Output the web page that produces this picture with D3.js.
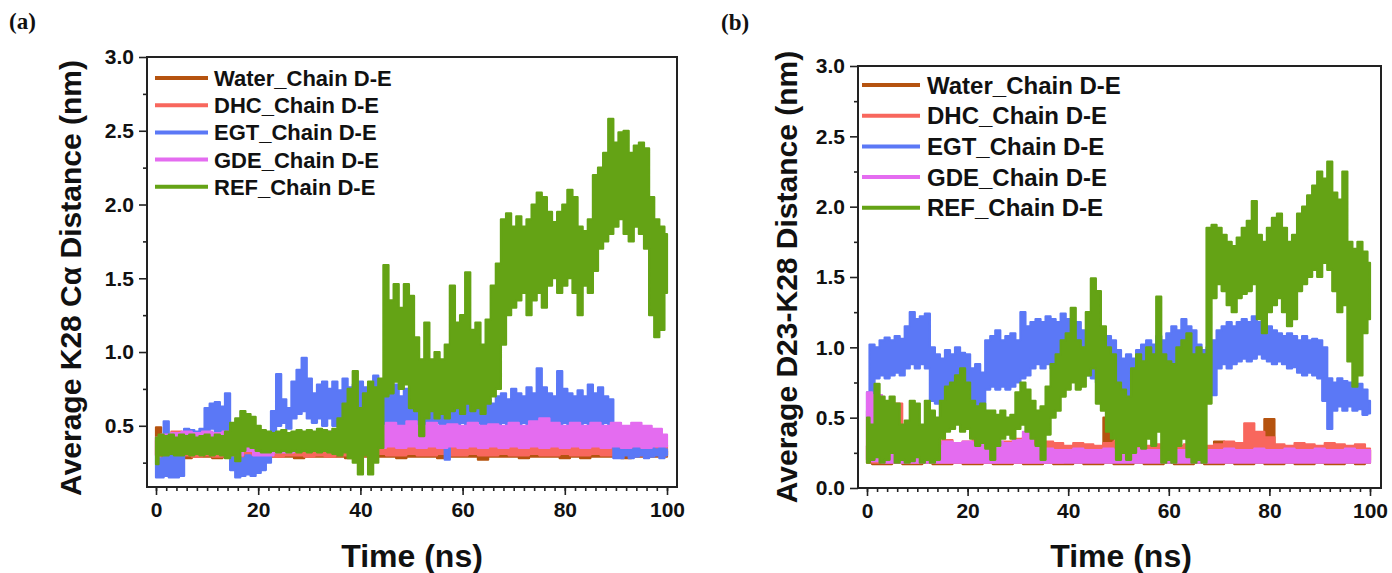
<!DOCTYPE html>
<html><head><meta charset="utf-8">
<script src="https://cdn.jsdelivr.net/npm/d3@7"></script>
<style>
body{margin:0;background:#fff}
svg text{font-family:"Liberation Sans",Arial,sans-serif;font-weight:bold;fill:#111}
</style>
</head><body>
<svg id="c" width="1392" height="573"></svg>
<script>
// ---------------- DATA ----------------
const seriesNames = ["Water_Chain D-E","DHC_Chain D-E","EGT_Chain D-E","GDE_Chain D-E","REF_Chain D-E"];
const timeFine = d3.range(0, 101, 1);    // ns, 1 ns sampling
const timeCoarse = d3.range(0, 101, 2);  // ns, 2 ns sampling
const xTicks = [0, 20, 40, 60, 80, 100];
const xMinorTicks = d3.range(0, 101, 2);
const yTicksA = [0.5, 1.0, 1.5, 2.0, 2.5, 3.0];
const yMinorA = [0.25, 0.75, 1.25, 1.75, 2.25, 2.75];
const yTicksB = [0.0, 0.5, 1.0, 1.5, 2.0, 2.5, 3.0];
const yMinorB = [0.25, 0.75, 1.25, 1.75, 2.25, 2.75];

// Panel (a): Average K28 Cα distance, band low / high envelopes (nm)
const waterA_lo = [.30,.29,.29,.28,.29,.29,.28,.29,.29,.29, .28,.29,.29,.29,.28,.29,.29,.29,.29,.28, .29,.29,.29,.29,.28,.29,.29,.29,.28,.29, .29,.29,.27,.29,.29,.29,.28,.29,.29,.29, .28,.29,.28,.29,.29,.29,.28,.29,.29,.29, .29];
const waterA_hi = [.49,.33,.32,.33,.32,.32,.33,.32,.32,.33, .32,.32,.33,.32,.32,.33,.32,.32,.33,.32, .32,.33,.32,.33,.33,.34,.33,.33,.32,.33, .32,.33,.32,.33,.32,.33,.32,.33,.33,.32, .33,.32,.33,.32,.33,.32,.33,.32,.33,.32, .33];
const dhcA_lo = [.30,.30,.30,.30,.29,.30,.29,.30,.29,.30, .29,.30,.29,.30,.30,.29,.30,.29,.30,.30, .30,.30,.31,.30,.30,.31,.30,.30,.31,.30, .30,.31,.30,.30,.31,.30,.30,.31,.30,.30, .31,.30,.30,.31,.30,.30,.31,.30,.30,.31, .30];
const dhcA_hi = [.40,.42,.46,.38,.37,.36,.37,.36,.36,.37, .36,.37,.36,.36,.37,.36,.36,.37,.36,.36, .36,.37,.37,.38,.37,.38,.37,.37,.38,.37, .37,.38,.37,.38,.37,.37,.38,.37,.38,.37, .38,.37,.37,.38,.37,.38,.37,.37,.38,.37, .37];
const egtA_lo = [.15,.15,.16,.15,.15,.16,.35,.38,.36,.40, .45,.48,.45,.42,.40,.20,.15,.16,.17,.16, .18,.20,.25,.45,.50,.52,.48,.55,.58,.60, .55,.52,.55,.50,.55,.50,.55,.58,.52,.55, .50,.55,.52,.50,.48,.45,.50,.48,.45,.50, .48,.50,.52,.48,.50,.52,.50,.27,.50,.48, .52,.50,.48,.52,.50,.48,.52,.50,.52,.50, .52,.50,.52,.48,.52,.50,.52,.50,.52,.50, .52,.50,.52,.50,.52,.50,.52,.50,.52,.45, .28,.28,.30,.28,.29,.30,.28,.29,.30,.28, .30];
const egtA_hi = [.30,.28,.53,.30,.29,.32,.48,.47,.46,.48, .62,.65,.66,.63,.72,.40,.30,.28,.30,.29, .31,.33,.45,.60,.85,.68,.62,.80,.88,.96, .82,.72,.78,.80,.75,.80,.74,.82,.76,.78, .80,.76,.78,.84,.80,.75,.72,.78,.70,.75, .70,.72,.68,.70,.75,.70,.88,.72,.68,.70, .66,.68,.65,.70,.66,.68,.65,.70,.72,.68, .75,.72,.70,.76,.72,.89,.76,.72,.70,.87, .75,.72,.70,.74,.70,.78,.72,.76,.70,.68, .36,.34,.36,.34,.35,.34,.36,.35,.34,.36, .34];
const gdeA_lo = [.30,.32,.33,.33,.32,.33,.32,.31,.30,.33, .30,.30,.32,.32,.33,.33,.33,.33,.33,.33, .33,.32,.35,.36,.35,.36,.35,.36,.35,.36, .35,.36,.35,.36,.35,.36,.35,.36,.35,.36, .35,.36,.35,.36,.35,.36,.35,.36,.35,.36, .36];
const gdeA_hi = [.42,.44,.45,.46,.45,.46,.45,.46,.44,.44, .38,.38,.42,.44,.45,.44,.45,.46,.45,.46, .45,.46,.50,.52,.50,.53,.50,.52,.50,.51, .50,.52,.50,.51,.50,.52,.50,.53,.55,.52, .50,.52,.50,.52,.50,.52,.50,.52,.50,.48, .44];
const refA_lo = [.24,.30,.30,.31,.30,.30,.31,.30,.31,.30, .31,.30,.31,.30,.28,.30,.26,.33,.36,.35, .33,.32,.32,.33,.32,.33,.32,.33,.32,.33, .32,.33,.32,.33,.32,.31,.30,.32,.28,.25, .17,.30,.17,.25,.35,.70,.72,.80,.75,.78, .62,.60,.43,.55,.60,.55,.58,.55,.60,.62, .58,.65,.60,.62,.58,.65,.70,.75,1.05,1.25, 1.30,1.35,1.40,1.25,1.35,1.40,1.30,1.45,1.50,1.40, 1.45,1.50,1.40,1.25,1.45,1.40,1.55,1.70,1.75,1.80, 1.85,1.90,1.80,1.75,1.85,1.80,1.70,1.25,1.10,1.15, 1.40];
const refA_hi = [.42,.44,.43,.44,.42,.44,.43,.44,.42,.43, .44,.42,.44,.43,.46,.52,.55,.60,.58,.56, .50,.47,.46,.45,.46,.47,.45,.46,.47,.46, .47,.46,.48,.47,.46,.48,.55,.65,.75,.87, .62,.72,.80,.76,.82,1.59,1.35,1.46,1.30,1.46, 1.38,1.10,.95,1.20,.95,1.00,.95,1.05,1.45,1.20, 1.25,1.54,1.15,1.20,1.05,1.22,1.45,1.60,1.90,1.94, 1.85,1.92,1.85,1.90,2.00,2.08,2.05,1.95,1.88,1.95, 2.00,2.10,2.05,1.85,1.82,1.90,2.20,2.25,2.35,2.58, 2.42,2.49,2.50,2.35,2.40,2.42,2.38,2.05,1.90,1.85, 1.80];

// Panel (b): Average D23-K28 distance, band low / high envelopes (nm)
const waterB_lo = [.18,.17,.17,.18,.17,.17,.18,.17,.17,.18, .17,.17,.18,.17,.17,.18,.17,.17,.18,.17, .17,.18,.17,.17,.18,.17,.17,.18,.17,.17, .18,.17,.17,.18,.17,.17,.18,.17,.17,.18, .17,.17,.18,.17,.17,.18,.17,.17,.18,.17, .18];
const waterB_hi = [.30,.48,.28,.27,.27,.28,.27,.27,.28,.27, .27,.28,.27,.27,.28,.27,.27,.28,.27,.27, .28,.27,.27,.28,.50,.28,.27,.28,.27,.27, .28,.27,.27,.28,.27,.33,.28,.27,.28,.27, .49,.28,.27,.28,.27,.28,.27,.28,.27,.28, .27];
const dhcB_lo = [.20,.18,.18,.18,.18,.18,.18,.18,.18,.18, .18,.18,.18,.18,.18,.18,.18,.18,.18,.18, .20,.20,.20,.20,.20,.20,.20,.20,.20,.20, .20,.20,.20,.20,.20,.20,.20,.20,.25,.22, .22,.20,.20,.20,.20,.20,.20,.20,.20,.20, .20];
const dhcB_hi = [.55,.58,.50,.60,.35,.33,.35,.33,.34,.32, .33,.35,.34,.32,.33,.35,.36,.34,.33,.32, .30,.32,.31,.30,.32,.33,.31,.32,.30,.31, .32,.30,.31,.32,.30,.31,.33,.32,.46,.40, .36,.31,.30,.32,.31,.30,.32,.31,.30,.31, .28];
const egtB_lo = [.50,.60,.78,.80,.78,.80,.82,.80,.85,.88, .85,.88,.85,.62,.60,.50,.60,.58,.62,.60, .58,.55,.58,.55,.70,.72,.70,.72,.70,.72, .75,.78,.80,.85,.88,.85,.88,.85,.88,.90, .88,.85,.88,.85,.80,.78,.75,.78,.75,.78, .72,.68,.65,.70,.72,.75,.78,.75,.78,.80, .82,.80,.82,.85,.82,.80,.72,.70,.68,.66, .85,.88,.85,.88,.90,.92,.90,.92,.95,.92, .90,.88,.90,.88,.85,.86,.82,.80,.82,.80, .78,.62,.42,.55,.58,.55,.58,.55,.56,.52, .53];
const egtB_hi = [.68,1.02,1.00,1.05,1.07,1.05,1.08,1.06,1.15,1.25, 1.20,1.22,1.24,1.00,.95,.92,.98,.95,1.00,.96, .95,.85,.88,.82,1.05,1.08,1.12,1.05,1.08,1.10, 1.05,1.25,1.15,1.18,1.20,1.18,1.22,1.20,1.18,1.24, 1.20,1.15,1.18,1.12,1.10,1.08,1.05,1.10,1.08,1.05, .98,.92,.95,.92,.98,1.02,1.05,1.02,1.08,1.05, 1.10,1.15,1.12,1.20,1.15,1.12,1.02,.98,1.00,1.05, 1.12,1.15,1.18,1.15,1.18,1.20,1.18,1.22,1.18,1.20, 1.15,1.12,1.10,1.08,1.10,1.08,1.05,1.08,1.05,1.06, 1.05,1.00,.78,.75,.78,.76,.75,.72,.74,.70, .62];
const gdeB_lo = [.20,.19,.18,.18,.18,.18,.18,.18,.18,.18, .18,.18,.18,.18,.18,.18,.18,.18,.18,.18, .18,.18,.18,.18,.18,.18,.18,.18,.18,.18, .18,.18,.18,.18,.18,.18,.18,.18,.18,.18, .18,.18,.18,.18,.18,.18,.18,.18,.18,.18, .18];
const gdeB_hi = [.68,.66,.30,.32,.30,.30,.31,.30,.33,.32, .33,.32,.31,.33,.32,.34,.40,.30,.28,.27, .27,.28,.27,.27,.28,.27,.27,.28,.27,.27, .28,.27,.27,.28,.27,.27,.28,.27,.27,.28, .27,.27,.28,.27,.27,.28,.27,.27,.28,.27, .27];
const refB_lo = [.18,.20,.22,.18,.20,.25,.18,.20,.18,.19, .22,.18,.20,.18,.20,.35,.40,.42,.45,.40, .42,.35,.30,.32,.28,.20,.30,.35,.38,.35, .42,.45,.40,.35,.30,.20,.38,.50,.55,.65, .70,.75,.70,.72,.80,.85,.60,.55,.40,.35, .20,.25,.20,.25,.30,.28,.35,.30,.40,.18, .20,.18,.30,.35,.22,.18,.20,.18,.60,1.35, 1.45,1.40,1.30,1.25,1.35,1.38,1.40,1.45,1.20,1.10, 1.25,1.30,1.35,1.25,1.15,1.20,1.40,1.45,1.50,1.55, 1.50,1.60,1.55,1.40,1.25,1.30,.90,.72,.80,1.10, 1.20];
const refB_hi = [.50,.45,.74,.65,.62,.65,.60,.45,.48,.62, .60,.45,.62,.55,.50,.62,.72,.75,.80,.85, .75,.62,.58,.60,.55,.55,.52,.55,.50,.52, .68,.75,.70,.62,.55,.58,.72,.88,.95,1.05, 1.10,1.28,1.05,1.00,1.25,1.49,1.40,1.15,1.00,.95, .75,.70,.65,.85,.95,.90,1.00,.95,1.36,.95, .90,.88,1.00,1.05,1.10,.95,1.00,.95,1.85,1.87, 1.85,1.80,1.75,1.72,1.78,1.85,1.90,2.04,1.80,1.75, 1.85,1.92,1.95,1.85,1.75,1.80,1.95,2.00,2.08,2.15, 2.25,2.20,2.32,2.10,2.05,2.25,1.75,1.70,1.75,1.68, 1.60];

// ---------------- STYLE / LAYOUT ----------------
const colors = ["#b5530f", "#f8675d", "#5b78f6", "#e46cf0", "#64a315"];
const svg = d3.select("#c");

function drawPanel(cfg) {
  const g = svg.append("g");
  const x = d3.scaleLinear().domain([0, 100]).range(cfg.xRange);
  const y = d3.scaleLinear().domain(cfg.yDomain).range([cfg.frame.y1, cfg.frame.y0]);
  const f = cfg.frame;
  const clipId = "clip" + cfg.id;
  svg.append("defs").append("clipPath").attr("id", clipId)
    .append("rect").attr("x", f.x0).attr("y", f.y0).attr("width", f.x1 - f.x0).attr("height", f.y1 - f.y0);

  const plot = g.append("g").attr("clip-path", `url(#${clipId})`);
  cfg.series.forEach((s, k) => {
    const pts = s.time.map((t, i) => ({t, lo: s.lo[i], hi: s.hi[i]}));
    const area = d3.area().curve(d3.curveStep).x(d => x(d.t)).y0(d => y(d.lo)).y1(d => y(d.hi));
    plot.append("path").attr("d", area(pts))
      .attr("fill", colors[k]).attr("stroke", colors[k])
      .attr("stroke-width", 2.2).attr("stroke-linejoin", "round");
  });

  // axes
  const xa = g.append("g").attr("transform", `translate(0,${f.y1})`)
    .call(d3.axisBottom(x).tickValues(xMinorTicks).tickSize(4).tickFormat(""));
  const xb = g.append("g").attr("transform", `translate(0,${f.y1})`)
    .call(d3.axisBottom(x).tickValues(xTicks).tickSize(8).tickPadding(7).tickFormat(d3.format("d")));
  const ya = g.append("g").attr("transform", `translate(${f.x0},0)`)
    .call(d3.axisLeft(y).tickValues(cfg.yMinor).tickSize(4).tickFormat(""));
  const yb = g.append("g").attr("transform", `translate(${f.x0},0)`)
    .call(d3.axisLeft(y).tickValues(cfg.yTicks).tickSize(8).tickPadding(5).tickFormat(d3.format(".1f")));
  [xa, xb, ya, yb].forEach(a => {
    a.select(".domain").remove();
    a.selectAll("line").attr("stroke", "#222").attr("stroke-width", 1.6);
    a.selectAll("text").style("font-size", "21px").attr("fill", "#111");
  });
  g.append("rect").attr("x", f.x0).attr("y", f.y0).attr("width", f.x1 - f.x0).attr("height", f.y1 - f.y0)
    .attr("fill", "none").attr("stroke", "#222").attr("stroke-width", 2);

  // titles
  g.append("text").attr("x", cfg.xTitle[0]).attr("y", cfg.xTitle[1]).attr("text-anchor", "middle")
    .style("font-size", "32px").text("Time (ns)");
  g.append("text").attr("transform", `translate(${cfg.yTitle[0]},${cfg.yTitle[1]}) rotate(-90)`)
    .attr("text-anchor", "middle").style("font-size", cfg.yTitleSize + "px").text(cfg.yLabel);
  g.append("text").attr("x", cfg.tag[0]).attr("y", cfg.tag[1])
    .style("font-family", "'Liberation Serif','Times New Roman',serif").style("font-size", "23px")
    .text(cfg.tagText);

  // legend
  const L = cfg.legend;
  seriesNames.forEach((name, k) => {
    const yy = L.y0 + k * L.dy;
    g.append("line").attr("x1", L.x0).attr("x2", L.x1).attr("y1", yy).attr("y2", yy)
      .attr("stroke", colors[k]).attr("stroke-width", 4);
    g.append("text").attr("x", L.tx).attr("y", yy).attr("dy", "0.36em")
      .style("font-size", L.fs + "px").text(name);
  });
}

drawPanel({
  id: "a", tagText: "(a)", tag: [9, 29],
  frame: {x0: 147, x1: 677, y0: 57, y1: 487},
  xRange: [156, 667], yDomain: [0.085, 3.0],
  yTicks: yTicksA, yMinor: yMinorA,
  yLabel: "Average K28 Cα Distance (nm)", yTitle: [81, 278], yTitleSize: 30,
  xTitle: [412, 567],
  legend: {x0: 155, x1: 208, tx: 214, y0: 78, dy: 27.2, fs: 22},
  series: [
    {time: timeCoarse, lo: waterA_lo, hi: waterA_hi},
    {time: timeCoarse, lo: dhcA_lo, hi: dhcA_hi},
    {time: timeFine, lo: egtA_lo, hi: egtA_hi},
    {time: timeCoarse, lo: gdeA_lo, hi: gdeA_hi},
    {time: timeFine, lo: refA_lo, hi: refA_hi}
  ]
});

drawPanel({
  id: "b", tagText: "(b)", tag: [721, 30],
  frame: {x0: 858, x1: 1381, y0: 66, y1: 488},
  xRange: [867, 1370], yDomain: [0, 3.0],
  yTicks: yTicksB, yMinor: yMinorB,
  yLabel: "Average D23-K28 Distance (nm)", yTitle: [797, 277], yTitleSize: 30,
  xTitle: [1121, 567],
  legend: {x0: 862, x1: 920, tx: 927, y0: 85, dy: 30.7, fs: 24},
  series: [
    {time: timeCoarse, lo: waterB_lo, hi: waterB_hi},
    {time: timeCoarse, lo: dhcB_lo, hi: dhcB_hi},
    {time: timeFine, lo: egtB_lo, hi: egtB_hi},
    {time: timeCoarse, lo: gdeB_lo, hi: gdeB_hi},
    {time: timeFine, lo: refB_lo, hi: refB_hi}
  ]
});
</script>
</body></html>
